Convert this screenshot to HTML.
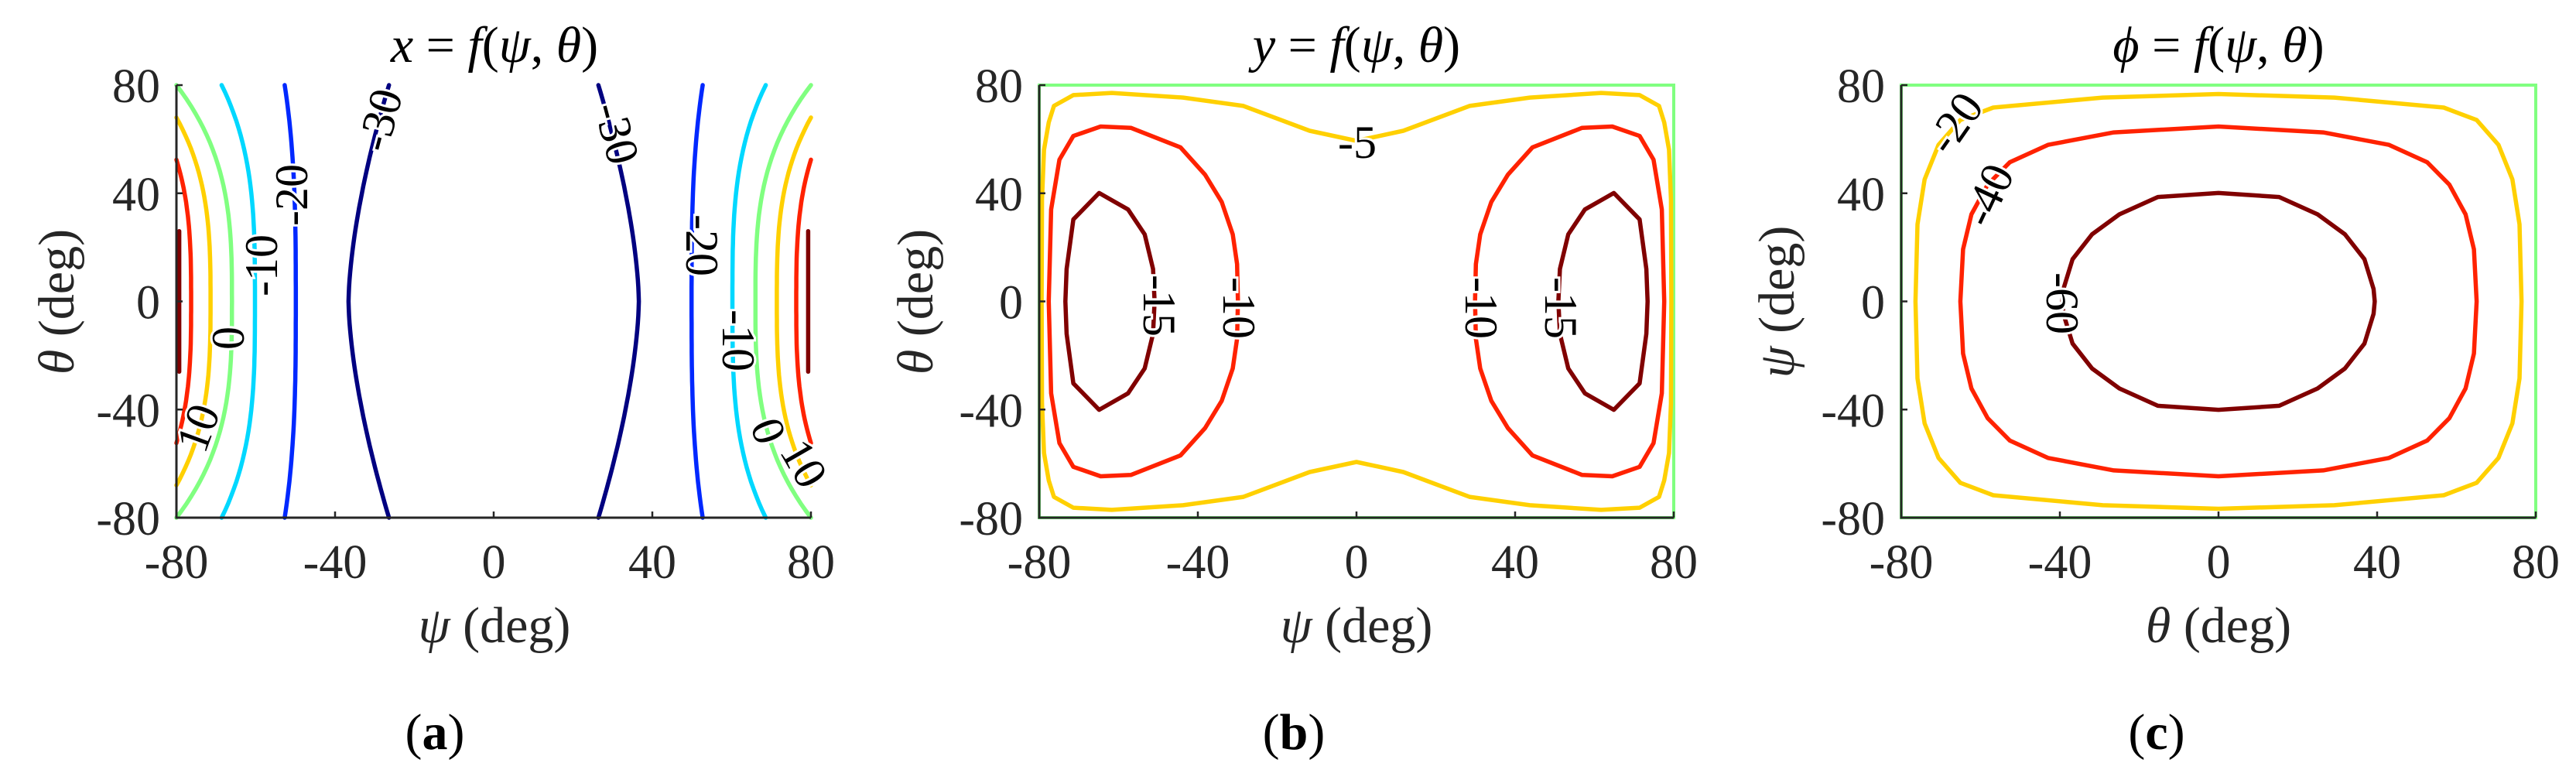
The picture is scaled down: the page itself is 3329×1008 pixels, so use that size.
<!DOCTYPE html>
<html><head><meta charset="utf-8"><style>
html,body{margin:0;padding:0;background:#fff;}
svg{display:block;font-family:"Liberation Serif","DejaVu Serif",serif;}
svg text{font-family:"Liberation Serif","DejaVu Serif",serif;}
.tk{font-size:62px;fill:#262626;}
.al{font-size:66px;fill:#262626;}
.ti{font-size:66px;fill:#000;}
.lb{font-size:60px;fill:#000;stroke:#fff;stroke-width:6px;paint-order:stroke;}
</style></head><body>
<svg id="s" width="3329" height="1008" viewBox="0 0 3329 1008" xmlns="http://www.w3.org/2000/svg" font-family="Liberation Serif, DejaVu Serif, serif">
<g id="g"></g>
<text class="ti" x="639" y="80" text-anchor="middle"><tspan font-style="italic">x</tspan> = <tspan font-style="italic">f</tspan>(<tspan font-style="italic">ψ</tspan>, <tspan font-style="italic">θ</tspan>)</text>
<text class="ti" x="1753" y="80" text-anchor="middle"><tspan font-style="italic">y</tspan> = <tspan font-style="italic">f</tspan>(<tspan font-style="italic">ψ</tspan>, <tspan font-style="italic">θ</tspan>)</text>
<text class="ti" x="2867" y="80" text-anchor="middle"><tspan font-style="italic">ϕ</tspan> = <tspan font-style="italic">f</tspan>(<tspan font-style="italic">ψ</tspan>, <tspan font-style="italic">θ</tspan>)</text>
<text class="al" x="639" y="830" text-anchor="middle"><tspan font-style="italic">ψ</tspan> (deg)</text>
<text class="al" x="1753" y="830" text-anchor="middle"><tspan font-style="italic">ψ</tspan> (deg)</text>
<text class="al" x="2867" y="830" text-anchor="middle"><tspan font-style="italic">θ</tspan> (deg)</text>
<text class="al" transform="translate(95,390) rotate(-90)" text-anchor="middle"><tspan font-style="italic">θ</tspan> (deg)</text>
<text class="al" transform="translate(1205,390) rotate(-90)" text-anchor="middle"><tspan font-style="italic">θ</tspan> (deg)</text>
<text class="al" transform="translate(2318,390) rotate(-90)" text-anchor="middle"><tspan font-style="italic">ψ</tspan> (deg)</text>
<text class="ti" x="562" y="968" text-anchor="middle" fill="#262626">(<tspan font-weight="bold">a</tspan>)</text>
<text class="ti" x="1672" y="968" text-anchor="middle" fill="#262626">(<tspan font-weight="bold">b</tspan>)</text>
<text class="ti" x="2787" y="968" text-anchor="middle" fill="#262626">(<tspan font-weight="bold">c</tspan>)</text>
</svg>
<script>
(function(){
var NS="http://www.w3.org/2000/svg";
var g=document.getElementById("g");
var T=110,B=669,W=820;
function X(L,u){return L+(u+80)*W/160;}
function Y(v){return T+(80-v)*(B-T)/160;}
function el(n,a,txt){var e=document.createElementNS(NS,n);for(var k in a)e.setAttribute(k,a[k]);if(txt!==undefined)e.textContent=txt;g.appendChild(e);return e;}
function poly(L,pts,col,close){
  var d="";for(var i=0;i<pts.length;i++){d+=(i?"L":"M")+X(L,pts[i][0]).toFixed(1)+" "+Y(pts[i][1]).toFixed(1);}
  if(close)d+="Z";
  el("path",{d:d,fill:"none",stroke:col,"stroke-width":5.5,"stroke-linejoin":"round","stroke-linecap":"round"});
}
function fcurve(L,f,v0,v1,col){var p=[];for(var i=0;i<=60;i++){var v=v0+(v1-v0)*i/60;p.push([f(v),v]);}poly(L,p,col);}
var DR="#800000",R="#ff2200",YL="#ffd000",GR="#80ff80",CY="#00d8ff",BL="#0028ff",NV="#000080";
var La=228;
var curvesA=[
 [function(v){return -66-14*Math.pow(Math.abs(v)/80,3);},80,GR],
 [function(v){return -71.4-8.6*Math.pow(Math.abs(v)/68,3);},68,YL],
 [function(v){return -76.3-3.7*Math.pow(Math.abs(v)/52.4,3);},52.4,R],
 [function(v){return -79.3;},26,DR],
 [function(v){return -60.2-8.4*Math.pow(Math.abs(v)/80,3.2);},80,CY],
 [function(v){return -49.9-2.8*Math.pow(Math.abs(v)/80,3);},80,BL],
 [function(v){return -36.6+10.2*Math.pow(Math.abs(v)/80,1.6);},80,NV]
];
curvesA.forEach(function(c){
  fcurve(La,c[0],-c[1],c[1],c[2]);
  fcurve(La,function(v){return -c[0](v);},-c[1],c[1],c[2]);
});
function sym4(q){var p=q.slice();for(var i=q.length-2;i>=0;i--)p.push([q[i][0],-q[i][1]]);return p;}
function mirU(p){return p.map(function(a){return [-a[0],a[1]];});}
var Lb=1343;
el("rect",{x:Lb,y:T,width:W,height:B-T,fill:"none",stroke:GR,"stroke-width":4});
var yb=[[0,59.4],[-11.8,63.1],[-28.5,72.3],[-43.7,75.4],[-61.7,77.1],[-71.4,76.3],[-76.3,72.3],[-77.6,66.2],[-78.8,56.1],[-79.3,37.7],[-79.4,0]];
var ybl=sym4(yb);var ybfull=ybl.concat(mirU(ybl).reverse());
poly(Lb,ybfull,YL,true);
var rb=[[-29.9,0],[-30.1,13.8],[-31.2,24.8],[-34.0,36.8],[-38.2,46.9],[-44.4,57.0],[-56.9,64.2],[-64.5,64.7],[-71.4,61.2],[-74.9,52.4],[-77.0,34.0],[-77.6,0]];
function loopLeft(q){var p=q.slice();for(var i=q.length-2;i>0;i--)p.push([q[i][0],-q[i][1]]);return p;}
var rbl=loopLeft(rb);poly(Lb,rbl,R,true);poly(Lb,mirU(rbl),R,true);
var db=[[-50.9,0],[-51.3,12.0],[-53.4,24.8],[-57.6,34.0],[-64.9,40.1],[-71.4,30.3],[-73.1,12],[-73.4,0]];
var dbl=loopLeft(db);poly(Lb,dbl,DR,true);poly(Lb,mirU(dbl),DR,true);
var Lc=2457;
el("rect",{x:Lc,y:T,width:W,height:B-T,fill:"none",stroke:GR,"stroke-width":4});
function fullLoop(q){
  var a=q.slice();
  for(var i=q.length-2;i>=0;i--)a.push([q[i][0],-q[i][1]]);
  var b=[];for(var j=a.length-2;j>0;j--)b.push([-a[j][0],a[j][1]]);
  return a.concat(b);
}
poly(Lc,fullLoop([[0,76.7],[-29.2,75.4],[-56.8,71.7],[-65.1,67.1],[-70.6,57.9],[-74.1,45.1],[-75.9,28.5],[-76.4,0]]),YL,true);
poly(Lc,fullLoop([[0,64.7],[-26.4,62.5],[-43.0,57.9],[-52.6,51.5],[-58.2,43.2],[-62.3,32.2],[-64.4,19.3],[-65.1,0]]),R,true);
poly(Lc,fullLoop([[0,40.1],[-15.3,38.6],[-25.0,32.2],[-31.9,24.8],[-36.8,15.6],[-39.1,4.6],[-39.4,0]]),DR,true);
[La,Lb,Lc].forEach(function(L){
  el("path",{d:"M"+L+" "+T+"L"+L+" "+B+"L"+(L+W)+" "+B,fill:"none",stroke:"#262626","stroke-width":3});
  [-80,-40,0,40,80].forEach(function(t){
    var x=X(L,t),y=Y(t);
    el("path",{d:"M"+x+" "+B+"L"+x+" "+(B-8),stroke:"#262626","stroke-width":2.5});
    el("path",{d:"M"+L+" "+y+"L"+(L+8)+" "+y,stroke:"#262626","stroke-width":2.5});
    el("text",{"class":"tk",x:x,y:B+78,"text-anchor":"middle","font-family":"Liberation Serif, DejaVu Serif, serif"},String(t));
    el("text",{"class":"tk",x:L-21,y:y+22,"text-anchor":"end","font-family":"Liberation Serif, DejaVu Serif, serif"},String(t));
  });
});
function lab(x,y,r,t){el("text",{"class":"lb","font-family":"Liberation Serif, DejaVu Serif, serif",transform:"translate("+x+","+y+") rotate("+r+")","text-anchor":"middle","dominant-baseline":"central"},t);}
lab(491,155,-75,"-30");lab(377,252,-90,"-20");lab(338,343,-90,"-10");lab(295,437,-90,"0");lab(256,553,-70,"10");
lab(797,172,75,"-30");lab(907,317,90,"-20");lab(954,440,90,"-10");lab(993,557,70,"0");lab(1039,599,60,"10");
lab(1754,184,0,"-5");lab(1498,395,90,"-15");lab(1601,398,90,"-10");lab(1914,398,90,"-10");lab(2017,398,90,"-15");
lab(2526,159,-55,"-20");lab(2569,252,-65,"-40");lab(2665,392,90,"-60");
})();
</script>
</body></html>
